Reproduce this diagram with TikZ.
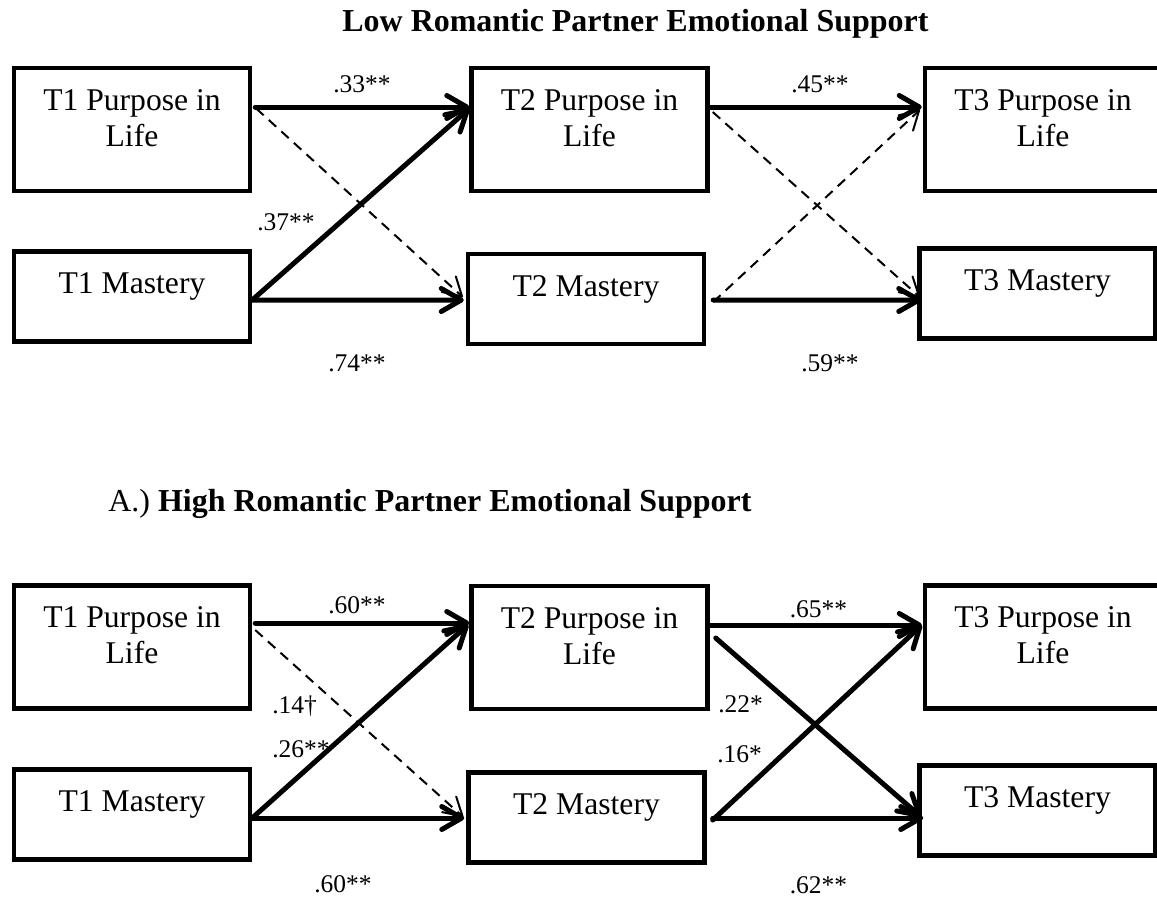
\documentclass[tikz,border=0pt]{standalone}
\usepackage{fontspec}
\setmainfont{Liberation Serif}
\usetikzlibrary{arrows.meta,calc}
\begin{document}
\begin{tikzpicture}[x=0.02cm,y=-0.02cm,
    box/.style={draw, line width=0.09cm, inner sep=0pt, minimum width=4.72cm},
    pbox/.style={box, minimum height=2.46cm},
    mbox/.style={box, minimum height=1.8cm},
    intext/.style={anchor=base, yshift=-0.89cm, align=center, font=\fontsize{18}{20.5}\selectfont},
    twotext/.style={intext, yshift=-0.72cm},
    heading/.style={anchor=base west, inner sep=0pt, font=\fontsize{18.2}{22}\selectfont},
    coef/.style={anchor=base, inner sep=0pt, font=\fontsize{14.5}{17}\selectfont},
    solidarr/.style={line width=0.1cm, line cap=round, -{Straight Barb[length=0.4cm, width=0.46cm, round]}},
    dasharr/.style={line width=0.04cm, dash pattern=on 0.2cm off 0.14cm, -{Straight Barb[length=0.36cm, width=0.42cm, round]}}]
	\useasboundingbox (0,0) rectangle (1157,900);
	\node[heading] (ttllow) at (342,31) {\bfseries Low Romantic Partner Emotional Support};
	\node[pbox, label={[twotext]north:T1 Purpose in\\Life}] (p1) at (132,129.5) {};
	\node[mbox, label={[intext]north:T1 Mastery}] (m1) at (132,296.5) {};
	\node[pbox, label={[twotext]north:T2 Purpose in\\Life}] (p2) at (589.5,129.5) {};
	\node[mbox, label={[intext]north:T2 Mastery}] (m2) at (586,299) {};
	\node[pbox, label={[twotext]north:T3 Purpose in\\Life}] (p3) at (1043,129.5) {};
	\node[mbox, label={[intext]north:T3 Mastery}] (m3) at (1037.5,293.5) {};
	\node[coef] (c33) at (362,92) {.33**};
	\node[coef] (c37) at (286,230) {.37**};
	\node[coef] (c74) at (357,371) {.74**};
	\node[coef] (c45) at (820,92) {.45**};
	\node[coef] (c59) at (830,371) {.59**};
	\draw[solidarr] ($(p1.east)+(3,-22.5)$) -- ($(p2.west)+(0,-22.5)$);
	\draw[solidarr] ($(m1.east)+(0,3.5)$) -- ($(p2.west)+(0,-21)$);
	\draw[dasharr] ($(p1.east)+(4,-21)$) -- ($(m2.west)+(-3,-2)$);
	\draw[solidarr] ($(m1.east)+(0,3.5)$) -- ($(m2.west)+(-2,1)$);
	\draw[solidarr] ($(p2.east)+(0,-22.5)$) -- ($(p3.west)+(-1,-22.5)$);
	\draw[dasharr] ($(p2.east)+(3,-17.5)$) -- ($(m3.west)+(2.5,3.5)$);
	\draw[dasharr] ($(m2.east)+(7,3)$) -- ($(p3.west)+(-3,-19.5)$);
	\draw[solidarr] ($(m2.east)+(7,1)$) -- ($(m3.west)+(4,6.5)$);
	\node[heading] (ttlhigh) at (108,511) {A.) \bfseries High Romantic Partner Emotional Support};
	\node[pbox, label={[twotext]north:T1 Purpose in\\Life}] (p1b) at (132,647) {};
	\node[mbox, label={[intext]north:T1 Mastery}] (m1b) at (132,814.5) {};
	\node[pbox, label={[twotext]north:T2 Purpose in\\Life}] (p2b) at (589.5,647.5) {};
	\node[mbox, label={[intext]north:T2 Mastery}] (m2b) at (586.5,817.5) {};
	\node[pbox, label={[twotext]north:T3 Purpose in\\Life}] (p3b) at (1043,647) {};
	\node[mbox, label={[intext]north:T3 Mastery}] (m3b) at (1037.5,810.5) {};
	\node[coef] (c60a) at (357,613) {.60**};
	\node[coef, anchor=base west] (c14) at (272,713) {.14\textdagger};
	\node[coef, anchor=base west] (c26) at (272,757) {.26**};
	\node[coef] (c60b) at (343,892) {.60**};
	\node[coef, anchor=base west] (c22) at (718,712) {.22*};
	\node[coef, anchor=base west] (c16) at (717,762) {.16*};
	\node[coef] (c65) at (818.5,617) {.65**};
	\node[coef] (c62) at (818.5,893) {.62**};
	\draw[solidarr] ($(p1b.east)+(3,-24)$) -- ($(p2b.west)+(0,-24.5)$);
	\draw[solidarr] ($(m1b.east)+(0,3.5)$) -- ($(p2b.west)+(-1,-23)$);
	\draw[dasharr] ($(p1b.east)+(3,-17)$) -- ($(m2b.west)+(-3,-0.5)$);
	\draw[solidarr] ($(m1b.east)+(0,3.5)$) -- ($(m2b.west)+(-2,0.5)$);
	\draw[solidarr] ($(p2b.east)+(0,-22.5)$) -- ($(p3b.west)+(-1,-22)$);
	\draw[solidarr] ($(p2b.east)+(6,-9.5)$) -- ($(m3b.west)+(4,6.5)$);
	\draw[solidarr] ($(m2b.east)+(6,2.5)$) -- ($(p3b.west)+(-1,-22)$);
	\draw[solidarr] ($(m2b.east)+(6,0.5)$) -- ($(m3b.west)+(6,7.5)$);
\end{tikzpicture}
\end{document}
